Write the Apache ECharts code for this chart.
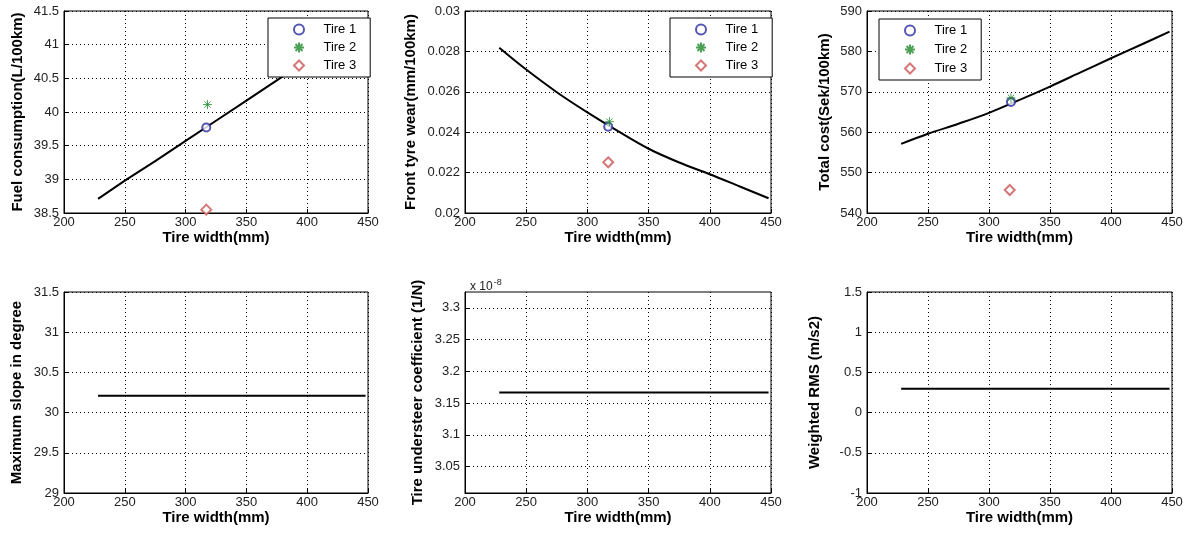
<!DOCTYPE html>
<html><head><meta charset="utf-8">
<script src="https://cdn.jsdelivr.net/npm/echarts@6/dist/echarts.min.js"></script>
<style>html,body{margin:0;padding:0;background:#fff}#c{width:1186px;height:535px}</style>
</head><body><div id="c"></div>
<script>
// ---- data ----
const widthCurve = [228, 250, 275, 300, 325, 350, 375, 400, 425, 448];
const fuelCurve  = [38.71, 38.98, 39.27, 39.57, 39.87, 40.17, 40.47, 40.77, 41.07, 41.35];
const wearCurve  = [0.02818, 0.02710, 0.02598, 0.02498, 0.02405, 0.02318, 0.02250, 0.02192, 0.02130, 0.02073];
const costCurve  = [557.1, 559.6, 562.1, 564.8, 568.0, 571.3, 574.8, 578.3, 581.7, 584.9];
const flatWidths = [228, 448];
const slopeFlat      = [30.21, 30.21];
const understeerFlat = [3.1667, 3.1667];   // in units of 1e-8 (1/N)
const rmsFlat        = [0.297, 0.297];

const tireNames  = ['Tire 1', 'Tire 2', 'Tire 3'];
const tireWidthFuel = [317, 318, 317];
const tireWidthWear = [317, 318, 317];
const tireWidthCost = [318, 318, 317];
const tireFuel = [39.77, 40.11, 38.55];
const tireWear = [0.02427, 0.02452, 0.02251];
const tireCost = [567.5, 568.5, 545.7];

const understeerTicks = [3.05, 3.1, 3.15, 3.2, 3.25, 3.3];

const xAxisTitle = 'Tire width(mm)';
const yTitles = ['Fuel consumption(L/100km)', 'Front tyre wear(mm/100km)', 'Total cost(Sek/100km)',
                 'Maximum slope in degree', 'Tire understeer coefficient (1/N)', 'Weighted RMS (m/s2)'];

// ---- layout / styling ----
const FONT = "'Liberation Sans', Arial, sans-serif";
const grids = [
  {left: 64,  top: 11,  width: 304, height: 202},
  {left: 465, top: 11,  width: 306, height: 202},
  {left: 867, top: 11,  width: 305, height: 202},
  {left: 64,  top: 292, width: 304, height: 201},
  {left: 465, top: 292, width: 306, height: 201},
  {left: 867, top: 292, width: 305, height: 201}
];
const yGaps = [39, 47, 35, 40, 40, 45];
const yRanges = [
  {min: 38.5, max: 41.5, interval: 0.5},
  {min: 0.02, max: 0.03, interval: 0.002},
  {min: 540, max: 590, interval: 10},
  {min: 29, max: 31.5, interval: 0.5},
  {min: 3.0083, max: 3.325},
  {min: -1, max: 1.5, interval: 0.5}
];
const curves = [
  [widthCurve, fuelCurve], [widthCurve, wearCurve], [widthCurve, costCurve],
  [flatWidths, slopeFlat], [flatWidths, understeerFlat], [flatWidths, rmsFlat]
];
const tireSets = [
  [tireWidthFuel, tireFuel], [tireWidthWear, tireWear], [tireWidthCost, tireCost]
];
const tireSymbols = ['emptyCircle',
  'path://M5 0L5 10M0 5L10 5M1.5 1.5L8.5 8.5M8.5 1.5L1.5 8.5',
  'emptyDiamond'];
const tireColors = ['#2a2aa0', '#1f8a2a', '#cc5555'];
const tireSizes = [8, 9, 10];
const legendPos = [
  {left: 268, top: 18, itemGap: 5},
  {left: 670, top: 18, itemGap: 5},
  {left: 879, top: 19, itemGap: 6}
];

const dotted = {color: '#000', type: [1, 3], width: 1};

const option = {
  animation: false,
  backgroundColor: '#fff',
  textStyle: {fontFamily: FONT},
  title: [{
    text: 'x 10{s|-8}', left: 465, top: 273,
    textStyle: {fontFamily: FONT, fontSize: 12, fontWeight: 'normal', color: '#222',
      rich: {s: {fontFamily: FONT, fontSize: 9, color: '#222', padding: [0, 0, 9, 1]}}}
  }],
  grid: grids.map(g => Object.assign({show: true, borderColor: '#000', borderWidth: 1,
      backgroundColor: '#fff', containLabel: false}, g)),
  legend: legendPos.map(p => ({
    left: p.left, top: p.top, orient: 'vertical', itemGap: p.itemGap,
    itemWidth: 10, itemHeight: 10, padding: [5, 14, 5, 25], symbolKeepAspect: true,
    backgroundColor: '#fff', borderColor: '#000', borderWidth: 1, borderRadius: 0,
    textStyle: {fontFamily: FONT, fontSize: 13, color: '#000'},
    formatter: name => '    ' + name,
    data: tireNames, selectedMode: false
  })),
  xAxis: grids.map((g, i) => ({
    gridIndex: i, type: 'value', min: 200, max: 450, interval: 50,
    name: xAxisTitle, nameLocation: 'middle', nameGap: 17,
    nameTextStyle: {fontFamily: FONT, fontSize: 15, fontWeight: 'bold', color: '#000'},
    axisLine: {show: true, onZero: false, lineStyle: {color: '#000', width: 1}},
    axisTick: {show: true, inside: true, length: 4, lineStyle: {color: '#000'}},
    axisLabel: {fontFamily: FONT, fontSize: 13, color: '#222', margin: 3},
    splitLine: {show: true, lineStyle: dotted}
  })),
  yAxis: grids.map((g, i) => {
    const ax = Object.assign({
      gridIndex: i, type: 'value',
      name: yTitles[i], nameLocation: 'middle', nameGap: yGaps[i], nameRotate: 90,
      nameTextStyle: {fontFamily: FONT, fontSize: 15, fontWeight: 'bold', color: '#000'},
      axisLine: {show: true, onZero: false, lineStyle: {color: '#000', width: 1}},
      axisTick: {show: true, inside: true, length: 4, lineStyle: {color: '#000'}},
      axisLabel: {fontFamily: FONT, fontSize: 13, color: '#222', margin: 5},
      splitLine: {show: true, lineStyle: dotted}
    }, yRanges[i]);
    if (i === 4) {
      ax.axisLabel.customValues = understeerTicks;
      ax.axisTick.customValues = understeerTicks;
    }
    return ax;
  }),
  series: []
};

curves.forEach((c, i) => {
  option.series.push({
    type: 'line', xAxisIndex: i, yAxisIndex: i, symbol: 'none', z: 2,
    smooth: (i === 1 || i === 2) ? 0.35 : false,
    lineStyle: {color: '#000', width: 2}, silent: true,
    data: c[0].map((x, k) => [x, c[1][k]])
  });
});
tireSets.forEach((t, i) => {
  tireNames.forEach((name, k) => {
    option.series.push({
      type: 'scatter', name: name, xAxisIndex: i, yAxisIndex: i, z: 3,
      symbol: tireSymbols[k], symbolSize: tireSizes[k], symbolKeepAspect: true,
      itemStyle: {color: tireColors[k], borderColor: tireColors[k], borderWidth: 1},
      data: [[t[0][k], t[1][k]]]
    });
  });
});

const chart = echarts.init(document.getElementById('c'), null, {renderer: 'canvas'});
chart.setOption(option);
</script>
</body></html>
